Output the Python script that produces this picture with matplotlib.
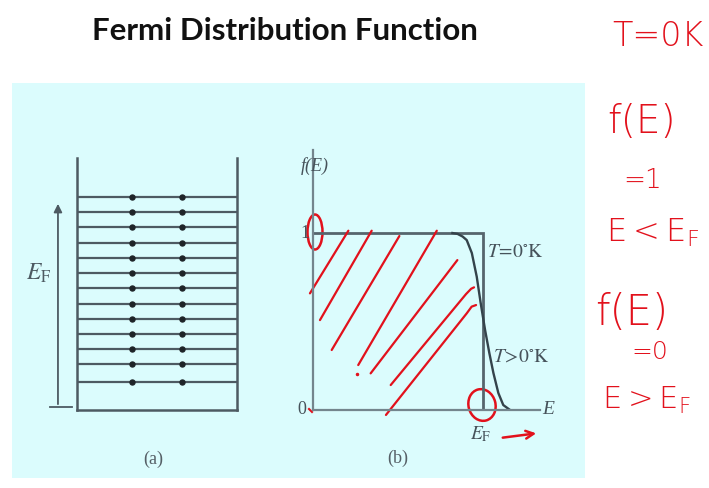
import matplotlib
matplotlib.use("Agg")
import matplotlib.pyplot as plt
from matplotlib.patches import Rectangle, Ellipse

# ---- data ----
# panel (a): occupied energy levels (units of level spacing above the well floor)
levels = [1.84, 2.99, 3.94, 4.92, 5.95, 6.93, 7.94, 8.94, 9.89, 10.89, 11.90, 12.88, 13.85]
electron_x = [0.342, 0.658]          # two electrons per level (spin up / down)
well_top = 16.4

# panel (b): Fermi function, energy in units of E_F
e_step = [0.0, 1.0, 1.0]
f_step = [1.0, 1.0, 0.0]
e_warm = [0.82, 0.85, 0.88, 0.904, 0.934, 0.963, 0.986, 1.012, 1.037, 1.061, 1.09, 1.119, 1.159]
f_warm = [1.0, 0.995, 0.98, 0.96, 0.887, 0.753, 0.605, 0.452, 0.322, 0.209, 0.096, 0.028, 0.0]

# pen strokes shading the filled states (E, f)
hatch_strokes = [
    ([-0.018, 0.208], [0.659, 1.013]),
    ([0.041, 0.345], [0.508, 1.013]),
    ([0.110, 0.508], [0.339, 0.983]),
    ([0.266, 0.728], [0.254, 1.013]),
    ([0.339, 0.849], [0.207, 0.847]),
    ([0.457, 0.900, 0.930, 0.947], [0.141, 0.655, 0.685, 0.693]),
    ([0.429, 0.904, 0.933, 0.959], [-0.028, 0.546, 0.584, 0.593]),
]

notes = ["T=0K", "f(E)", "=1", r"$\mathregular{E<E_F}$", "f(E)", "=0", r"$\mathregular{E>E_F}$"]

W, H = 709, 488
fig = plt.figure(figsize=(W / 100, H / 100), dpi=100)
fig.patch.set_facecolor("white")

# full-figure layer in pixel units for the slide background and annotations
bg = fig.add_axes([0, 0, 1, 1], zorder=0)
bg.set_xlim(0, W)
bg.set_ylim(H, 0)
bg.axis("off")
bg.add_patch(Rectangle((12, 83), 573, 395, facecolor="#dbfcfd", edgecolor="none"))

bg.text(285, 31, "Fermi Distribution Function", ha="center", va="center",
        fontsize=22.5, fontweight="bold", family="Lato", color="#111111")

ink = "#4d5a62"
serif = "Liberation Serif"

# ---- panel (a): potential well filled up to E_F ----
def px_axes(x0, x1, ytop, ybot):
    return fig.add_axes([x0 / W, (H - ybot) / H, (x1 - x0) / W, (ybot - ytop) / H], zorder=2)

axa = px_axes(77, 237, 158, 410)
axa.patch.set_alpha(0)
axa.set_xlim(0, 1)
axa.set_ylim(0, well_top)
axa.spines["top"].set_visible(False)
for s in ["left", "right", "bottom"]:
    axa.spines[s].set_color(ink)
    axa.spines[s].set_linewidth(1.8)
axa.set_xticks([])
axa.set_yticks([])
for lv in levels:
    axa.plot([0, 1], [lv, lv], color=ink, lw=1.6, solid_capstyle="butt")
    axa.plot(electron_x, [lv, lv], "o", color="#1e2428", ms=3.6)
axa.annotate("", xy=(-0.119, 13.6), xytext=(-0.119, 0.2),
             arrowprops=dict(arrowstyle="-|>", color=ink, lw=1.3, mutation_scale=12),
             annotation_clip=False)
axa.plot([-0.17, -0.03], [0.2, 0.2], color=ink, lw=1.3, clip_on=False)
axa.text(-0.24, 8.9, r"$E_\mathrm{F}$", ha="center", va="center", fontsize=17,
         color=ink, family=serif, math_fontfamily="stix")
bg.text(153, 459, "(a)", ha="center", va="center", fontsize=13, family=serif, color="#555f66")

# ---- panel (b): Fermi distribution ----
axb = px_axes(313, 540, 150, 410)
axb.patch.set_alpha(0)
axb.set_xlim(0, 1.335)
axb.set_ylim(0, 1.469)
for s in ["top", "right"]:
    axb.spines[s].set_visible(False)
for s in ["left", "bottom"]:
    axb.spines[s].set_color("#74858d")
    axb.spines[s].set_linewidth(1.6)
axb.set_xticks([])
axb.set_yticks([])
axb.plot(e_step, f_step, color="#56656d", lw=2.0, solid_joinstyle="miter")
axb.plot(e_warm, f_warm, color="#34434b", lw=1.7)

lbl = dict(family=serif, color="#46525a", ha="center", va="center")
axb.text(0.012, 1.38, "f(E)", fontsize=13, style="italic", **lbl)
axb.text(-0.05, 1.0, "1", fontsize=13, **lbl)
axb.text(-0.065, 0.0, "0", fontsize=13, **lbl)
axb.text(1.385, 0.0, "E", fontsize=14, style="italic", **lbl)
axb.text(0.985, -0.135, r"$E_\mathrm{F}$", fontsize=14, math_fontfamily="stix", **lbl)
axb.text(1.19, 0.89, r"$T\!=\!0^{\circ}\mathrm{K}$", fontsize=14, math_fontfamily="stix", **lbl)
axb.text(1.225, 0.30, r"$T\!>\!0^{\circ}\mathrm{K}$", fontsize=14, math_fontfamily="stix", **lbl)
bg.text(398, 458, "(b)", ha="center", va="center", fontsize=13, family=serif, color="#555f66")

# ---- red pen annotations ----
red = "#e2111c"
for xs, ys in hatch_strokes:
    axb.plot(xs, ys, color=red, lw=1.6, solid_capstyle="round", clip_on=False)
axb.plot([0.261], [0.203], "o", color=red, ms=1.5)
bg.add_patch(Ellipse((315, 232), 15, 35, fill=False, edgecolor=red, lw=1.8))
bg.add_patch(Ellipse((482, 405), 27, 32, angle=-15, fill=False, edgecolor=red, lw=1.8))
bg.plot([309, 312], [409, 412], color=red, lw=1.5)
bg.annotate("", xy=(539, 433), xytext=(500, 438),
            arrowprops=dict(arrowstyle="->", color=red, lw=1.8, mutation_scale=14))

note_pos = [(658, 36, 24), (642, 122, 28), (643, 180, 19), (652, 233, 23),
            (632, 312, 30), (650, 352, 18), (646, 400, 22)]
for t, (x, y, fs) in zip(notes, note_pos):
    bg.text(x, y, t, ha="center", va="center", fontsize=fs, color=red,
            family="DejaVu Sans", fontweight="light")

fig.savefig("out.png", dpi=100)
